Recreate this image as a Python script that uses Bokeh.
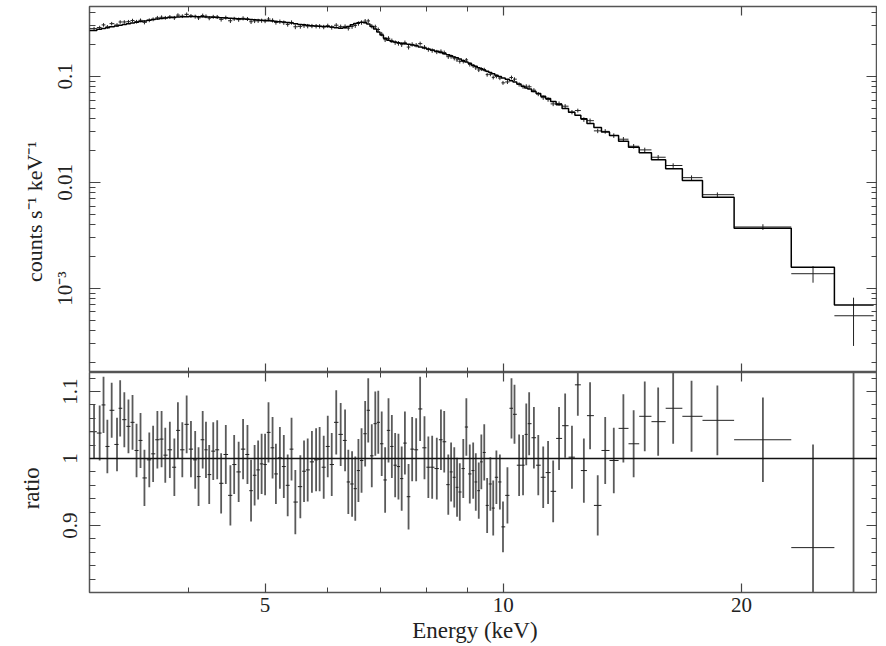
import numpy as np
from bokeh.plotting import figure
from bokeh.layouts import column
from bokeh.models import (Range1d, FixedTicker, LogAxis, LinearAxis,
                          CustomJSTickFormatter, Span, ColumnDataSource)
from bokeh.embed import file_html
from bokeh.resources import INLINE

# ---------------- data ----------------
energy = [
    3.04, 3.09, 3.125, 3.16, 3.20, 3.25, 3.28, 3.32, 3.36, 3.40, 3.44, 3.48,
    3.52, 3.57, 3.61, 3.655, 3.70, 3.74, 3.79, 3.84, 3.88, 3.93, 3.98, 4.03,
    4.08, 4.12, 4.17, 4.21, 4.25, 4.30, 4.35, 4.40, 4.46, 4.52, 4.57, 4.63,
    4.69, 4.75, 4.80, 4.85, 4.90, 4.95, 5.00, 5.05, 5.11, 5.16, 5.22, 5.28,
    5.34, 5.40, 5.46, 5.54, 5.60, 5.66, 5.73, 5.80, 5.86, 5.93, 6.00, 6.07,
    6.15, 6.23, 6.31, 6.37, 6.44, 6.50, 6.56, 6.62, 6.69, 6.75, 6.82, 6.89,
    6.95, 7.02, 7.09, 7.16, 7.23, 7.30, 7.37, 7.44, 7.51, 7.59, 7.67, 7.76,
    7.85, 7.95, 8.04, 8.13, 8.24, 8.34, 8.42, 8.52, 8.59, 8.67, 8.74, 8.81,
    8.90, 8.98, 9.07, 9.16, 9.23, 9.31, 9.38, 9.46, 9.54, 9.63, 9.71, 9.80,
    9.90, 9.99, 10.12, 10.24, 10.33, 10.47, 10.59, 10.69, 10.78, 10.93, 11.07, 11.23,
    11.39, 11.56, 11.76, 11.97, 12.21, 12.42, 12.64, 12.87, 13.16, 13.45, 13.79, 14.18,
    14.61, 15.09, 15.69, 16.39, 17.29, 18.64, 21.28, 24.62, 27.70,
]
ratio = [
    1.040, 1.038, 1.080, 1.018, 1.072, 1.021, 1.075, 1.058, 1.048, 1.054, 1.012, 1.027,
    0.971, 0.998, 1.007, 1.028, 1.029, 1.005, 1.013, 0.987, 1.042, 1.013, 1.051, 1.014,
    0.998, 0.973, 1.028, 1.013, 0.976, 1.011, 1.013, 0.963, 1.006, 0.945, 0.991, 0.980,
    1.014, 1.006, 0.952, 0.975, 0.983, 0.992, 0.991, 1.039, 1.016, 0.977, 1.001, 0.988,
    0.960, 1.014, 0.935, 0.958, 0.981, 0.983, 0.995, 0.998, 0.999, 0.987, 1.018, 0.991,
    1.054, 1.036, 1.027, 0.965, 0.962, 0.955, 0.982, 0.997, 1.037, 1.072, 1.004, 1.052,
    1.054, 1.022, 0.968, 1.042, 1.018, 0.990, 0.988, 0.970, 1.023, 0.943, 1.014, 1.013,
    1.074, 1.016, 0.987, 0.987, 0.985, 1.028, 1.025, 0.961, 0.980, 0.972, 0.957, 0.950,
    0.985, 1.047, 0.977, 0.982, 0.965, 0.952, 0.995, 1.009, 0.930, 0.962, 0.926, 0.972,
    0.965, 0.898, 0.945, 1.075, 1.066, 0.990, 0.990, 1.036, 1.052, 1.031, 0.990, 0.972,
    0.979, 0.951, 1.030, 1.049, 1.002, 1.110, 0.982, 1.064, 0.930, 1.012, 0.997, 1.045,
    1.022, 1.063, 1.055, 1.075, 1.063, 1.057, 1.028, 0.867, 0.790,
]
ratio_err = [
    0.040, 0.041, 0.042, 0.040, 0.041, 0.040, 0.042, 0.041, 0.040, 0.041, 0.040, 0.041,
    0.042, 0.041, 0.042, 0.043, 0.042, 0.041, 0.042, 0.043, 0.042, 0.041, 0.043, 0.042,
    0.043, 0.044, 0.043, 0.042, 0.044, 0.043, 0.044, 0.045, 0.044, 0.045, 0.044, 0.045,
    0.045, 0.044, 0.046, 0.045, 0.044, 0.045, 0.046, 0.045, 0.046, 0.045, 0.046, 0.047,
    0.046, 0.047, 0.048, 0.047, 0.046, 0.047, 0.046, 0.047, 0.048, 0.047, 0.046, 0.047,
    0.048, 0.047, 0.046, 0.048, 0.049, 0.048, 0.047, 0.048, 0.049, 0.048, 0.047, 0.048,
    0.047, 0.048, 0.049, 0.048, 0.047, 0.048, 0.049, 0.048, 0.047, 0.049, 0.048, 0.047,
    0.048, 0.047, 0.046, 0.047, 0.046, 0.045, 0.046, 0.045, 0.044, 0.045, 0.044, 0.043,
    0.044, 0.043, 0.044, 0.042, 0.043, 0.042, 0.041, 0.042, 0.041, 0.040, 0.041, 0.040,
    0.041, 0.038, 0.042, 0.045, 0.044, 0.046, 0.045, 0.046, 0.047, 0.046, 0.045, 0.046,
    0.047, 0.046, 0.047, 0.048, 0.047, 0.046, 0.048, 0.050, 0.045, 0.050, 0.049, 0.051,
    0.050, 0.052, 0.051, 0.053, 0.053, 0.052, 0.063, 0.154, 0.380,
]
model = [
    0.272, 0.279, 0.284, 0.289, 0.294, 0.300, 0.304, 0.309, 0.314, 0.320, 0.325, 0.330,
    0.334, 0.340, 0.344, 0.348, 0.352, 0.356, 0.360, 0.362, 0.364, 0.366, 0.367, 0.368,
    0.368, 0.367, 0.366, 0.365, 0.364, 0.362, 0.360, 0.359, 0.357, 0.355, 0.353, 0.351,
    0.349, 0.347, 0.345, 0.343, 0.341, 0.339, 0.337, 0.335, 0.333, 0.331, 0.329, 0.326,
    0.323, 0.319, 0.315, 0.310, 0.307, 0.304, 0.301, 0.299, 0.298, 0.297, 0.296, 0.293,
    0.289, 0.285, 0.289, 0.296, 0.308, 0.317, 0.322, 0.324, 0.321, 0.312, 0.297, 0.280,
    0.263, 0.246, 0.230, 0.220, 0.214, 0.211, 0.208, 0.206, 0.204, 0.201, 0.198, 0.195,
    0.190, 0.186, 0.182, 0.178, 0.173, 0.168, 0.164, 0.160, 0.157, 0.153, 0.150, 0.146,
    0.141, 0.137, 0.133, 0.128, 0.125, 0.121, 0.118, 0.115, 0.112, 0.109, 0.106, 0.103,
    0.100, 0.097, 0.094, 0.091, 0.0885, 0.085, 0.081, 0.078, 0.076, 0.072, 0.069, 0.065,
    0.062, 0.058, 0.054, 0.050, 0.046, 0.043, 0.040, 0.036, 0.033, 0.030, 0.0278, 0.0245,
    0.0215, 0.0191, 0.0164, 0.01345, 0.01045, 0.00726, 0.00370, 0.00159, 0.00070,
]
energy_min = 3.0
coarse_edges = [17.85, 19.57, 23.11, 26.20, 29.37]   # edges of the last wide bins

x_major = [5, 10, 20]
x_major_labels = ["5", "10", "20"]
x_minor = [4, 6, 7, 8, 9]
top_major = [0.001, 0.01, 0.1]
top_major_labels = ["10\u207b\u00b3", "0.01", "0.1"]
top_minor = [2e-4, 3e-4, 4e-4, 5e-4, 6e-4, 7e-4, 8e-4, 9e-4,
             2e-3, 3e-3, 4e-3, 5e-3, 6e-3, 7e-3, 8e-3, 9e-3,
             0.02, 0.03, 0.04, 0.05, 0.06, 0.07, 0.08, 0.09,
             0.2, 0.3, 0.4]
ratio_major = [0.9, 1.0, 1.1]
ratio_major_labels = ["0.9", "1", "1.1"]
ratio_minor = [0.82, 0.84, 0.86, 0.88, 0.92, 0.94, 0.96, 0.98,
               1.02, 1.04, 1.06, 1.08, 1.12]
ratio_ref = 1.0

# ---------------- derived ----------------
E = np.array(energy)
edges = np.empty(len(E) + 1)
edges[1:-1] = np.sqrt(E[:-1] * E[1:])
edges[0] = energy_min
edges[-len(coarse_edges):] = coarse_edges
lo, hi = edges[:-1], edges[1:]
M = np.array(model)
R = np.array(ratio)
RE = np.array(ratio_err)
D = M * R
DE = M * RE

FONT = "Liberation Serif"
TXT = "#222222"
FRAME = "#555555"
FS = "21px"
NB = "\u00a0"


def fmt(ticks, labels):
    return CustomJSTickFormatter(args=dict(t=ticks, l=labels), code="""
        for (let i = 0; i < t.length; i++) {
            if (Math.abs(tick - t[i]) <= 1e-9 * Math.abs(t[i])) return l[i];
        }
        return '';
    """)


def style(ax, ticks, minor, labels=None, major_len=9, minor_len=5):
    ax.ticker = FixedTicker(ticks=ticks, minor_ticks=minor)
    ax.major_tick_in = major_len
    ax.major_tick_out = 0
    ax.minor_tick_in = minor_len
    ax.minor_tick_out = 0
    ax.major_tick_line_color = "#444444"
    ax.minor_tick_line_color = "#444444"
    ax.major_tick_line_width = 1.2
    ax.minor_tick_line_width = 1.0
    ax.axis_line_color = None
    ax.axis_label_text_font = FONT
    ax.axis_label_text_font_style = "normal"
    ax.axis_label_text_font_size = FS
    ax.axis_label_text_color = TXT
    ax.major_label_text_font = FONT
    if labels is None:
        ax.formatter = fmt(ticks, [NB] * len(ticks))
        ax.major_label_text_font_size = "1px"
        ax.major_label_text_alpha = 0
        ax.major_label_standoff = 0
    else:
        ax.formatter = fmt(ticks, labels)
        ax.major_label_text_font_size = FS
        ax.major_label_text_color = TXT


common = dict(output_backend="svg", toolbar_location=None, frame_width=788,
              min_border_left=89, min_border_right=0, min_border_bottom=0,
              background_fill_color="white", border_fill_color="white")

# ---------------- top panel: spectrum ----------------
p1 = figure(x_axis_type="log", y_axis_type="log",
            x_range=Range1d(3.0, 29.7), y_range=Range1d(1.612e-4, 0.4574),
            frame_height=366, min_border_top=6, **common)
p1.grid.grid_line_color = None
p1.outline_line_color = FRAME
p1.outline_line_width = 1.5

style(p1.xaxis[0], x_major, x_minor)
style(p1.yaxis[0], top_major, top_minor, top_major_labels, major_len=11, minor_len=6)
p1.yaxis[0].major_label_orientation = "vertical"
p1.yaxis[0].major_label_standoff = 12
p1.yaxis[0].axis_label = "counts s\u207b\u00b9 keV\u207b\u00b9" + NB * 8
p1.yaxis[0].axis_label_text_font_size = "22px"
p1.yaxis[0].axis_label_standoff = 4
ax_top = LogAxis()
style(ax_top, x_major, x_minor)
p1.add_layout(ax_top, "above")
ax_r1 = LogAxis()
style(ax_r1, top_major, top_minor, major_len=11, minor_len=6)
p1.add_layout(ax_r1, "right")

src = ColumnDataSource(dict(e=E, lo=lo, hi=hi, d=D, dlo=D - DE, dhi=D + DE,
                            r=R, rlo=R - RE, rhi=R + RE))
p1.segment(x0="lo", x1="hi", y0="d", y1="d", source=src,
           line_color="#222222", line_width=1.0)
p1.segment(x0="e", x1="e", y0="dlo", y1="dhi", source=src,
           line_color="#222222", line_width=1.0)
step_x = np.column_stack([lo, hi]).ravel()
step_y = np.repeat(M, 2)
p1.line(step_x, step_y, line_color="black", line_width=1.5)

# ---------------- bottom panel: ratio ----------------
p2 = figure(x_axis_type="log", x_range=p1.x_range,
            y_range=Range1d(0.80, 1.1284), frame_height=220, min_border_top=0,
            **common)
p2.grid.grid_line_color = None
p2.outline_line_color = FRAME
p2.outline_line_width = 1.5

style(p2.xaxis[0], x_major, x_minor, x_major_labels)
p2.xaxis[0].axis_label = "Energy (keV)" + NB * 3
p2.xaxis[0].axis_label_text_font_size = "23px"
p2.xaxis[0].major_label_standoff = 5
p2.xaxis[0].axis_label_standoff = 3
style(p2.yaxis[0], ratio_major, ratio_minor, ratio_major_labels, major_len=11, minor_len=6)
p2.yaxis[0].major_label_orientation = "vertical"
p2.yaxis[0].major_label_standoff = 12
p2.yaxis[0].axis_label = "ratio" + NB * 2
p2.yaxis[0].axis_label_text_font_size = "23px"
p2.yaxis[0].axis_label_standoff = 17
ax_top2 = LogAxis()
style(ax_top2, x_major, x_minor)
p2.add_layout(ax_top2, "above")
ax_r2 = LinearAxis()
style(ax_r2, ratio_major, ratio_minor, major_len=11, minor_len=6)
p2.add_layout(ax_r2, "right")

p2.add_layout(Span(location=ratio_ref, dimension="width",
                   line_color="#111111", line_width=1.3))
p2.segment(x0="e", x1="e", y0="rlo", y1="rhi", source=src,
           line_color="#5a5a5a", line_width=1.8)
p2.segment(x0="lo", x1="hi", y0="r", y1="r", source=src,
           line_color="#222222", line_width=1.0)

layout = column(p1, p2, spacing=0)
open("out.html", "w").write(file_html(layout, INLINE))
